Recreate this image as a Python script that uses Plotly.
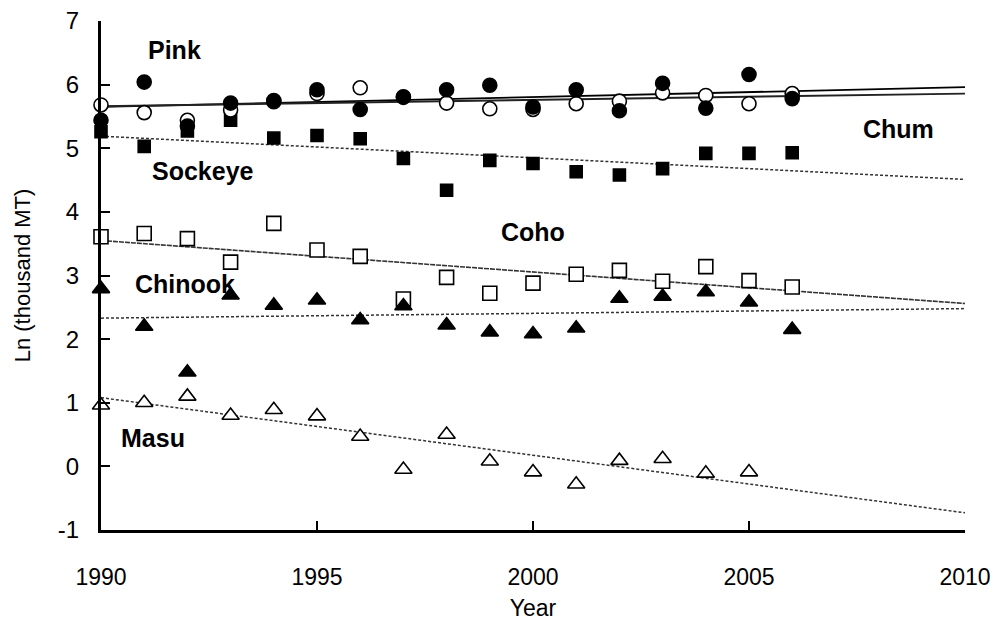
import plotly.graph_objects as go

years = list(range(1990, 2007))
pink = [5.44, 6.04, 5.35, 5.71, 5.75, 5.92, 5.61, 5.80, 5.92, 5.99, 5.65, 5.92, 5.59, 6.02, 5.63, 6.16, 5.78]
chum = [5.68, 5.56, 5.44, 5.60, 5.73, 5.86, 5.95, 5.81, 5.71, 5.62, 5.61, 5.70, 5.74, 5.87, 5.83, 5.70, 5.86]
sockeye = [5.26, 5.03, 5.27, 5.44, 5.16, 5.20, 5.15, 4.84, 4.34, 4.81, 4.76, 4.63, 4.58, 4.68, 4.92, 4.92, 4.93]
coho = [3.61, 3.66, 3.58, 3.21, 3.82, 3.40, 3.30, 2.63, 2.97, 2.72, 2.88, 3.02, 3.08, 2.91, 3.14, 2.92, 2.82]
chinook = [2.79, 2.20, 1.48, 2.69, 2.53, 2.61, 2.30, 2.52, 2.22, 2.11, 2.08, 2.17, 2.64, 2.67, 2.74, 2.58, 2.15]
masu_years = list(range(1990, 2006))
masu = [0.96, 1.00, 1.10, 0.80, 0.89, 0.79, 0.47, -0.05, 0.50, 0.08, -0.09, -0.28, 0.09, 0.12, -0.11, -0.09]

trend_years = [1990, 2010]
pink_trend = [5.65, 5.96]
chum_trend = [5.66, 5.86]
sockeye_trend = [5.19, 4.51]
coho_trend = [3.55, 2.56]
chinook_trend = [2.33, 2.48]
masu_trend = [1.08, -0.73]

label_text = ["Pink", "Chum", "Sockeye", "Coho", "Chinook", "Masu"]
label_x = [1991.7, 2008.45, 1992.35, 2000.0, 1991.95, 1991.2]
label_y = [6.54, 5.31, 4.65, 3.68, 2.86, 0.44]

x_ticks = [1990, 1995, 2000, 2005, 2010]
y_ticks = [-1, 0, 1, 2, 3, 4, 5, 6, 7]

FONT = "Liberation Sans, Arial"

fig = go.Figure()

# trend lines
for tr, dash, col, w in [
    (pink_trend, "solid", "black", 1.8),
    (chum_trend, "solid", "#222", 1.8),
    (sockeye_trend, "3px,2px", "#333", 1.5),
    (coho_trend, "5px,1px", "#333", 1.6),
    (chinook_trend, "3px,2px", "#333", 1.5),
    (masu_trend, "3px,2px", "#333", 1.5),
]:
    fig.add_trace(go.Scatter(x=trend_years, y=tr, mode="lines",
                             line=dict(color=col, width=w, dash=dash),
                             hoverinfo="skip", cliponaxis=False))

def pts(x, y, symbol, fill, size):
    fig.add_trace(go.Scatter(
        x=x, y=y, mode="markers", cliponaxis=False,
        marker=dict(symbol=symbol, size=size, color=fill,
                    line=dict(color="black", width=1.6))))

pts(years, sockeye, "square", "black", 12)
pts(years, coho, "square", "white", 14)
pts(years, chinook, "triangle-up", "black", 15)
pts(masu_years, masu, "triangle-up", "white", 15)
pts(years, chum, "circle", "white", 14)
pts(years, pink, "circle", "black", 14)

for t, x, y in zip(label_text, label_x, label_y):
    fig.add_annotation(x=x, y=y, text="<b>%s</b>" % t, showarrow=False,
                       font=dict(family=FONT, size=25, color="black"))

fig.update_layout(
    width=995, height=625,
    margin=dict(l=101, r=30, t=21, b=95, autoexpand=False),
    paper_bgcolor="white", plot_bgcolor="white",
    showlegend=False,
    font=dict(family=FONT, color="black"),
)
fig.update_xaxes(
    range=[1990, 2010], tickvals=x_ticks, ticktext=[str(v) for v in x_ticks],
    automargin=False, ticklabeloverflow="allow",
    showgrid=False, zeroline=False, showline=True, linecolor="black", linewidth=3,
    ticks="inside", ticklen=9, tickwidth=2, tickcolor="black",
    tickfont=dict(size=23), ticklabelstandoff=24,
    title=dict(text="Year", font=dict(size=23), standoff=12),
)
fig.update_yaxes(
    range=[-1, 7], tickvals=y_ticks, ticktext=[str(v) for v in y_ticks],
    automargin=False, ticklabeloverflow="allow",
    showgrid=False, zeroline=False, showline=True, linecolor="black", linewidth=3,
    ticks="inside", ticklen=9, tickwidth=2, tickcolor="black",
    tickfont=dict(size=24), ticklabelstandoff=14,
    title=dict(text="Ln (thousand MT)", font=dict(size=22), standoff=22),
)

fig.write_html("out.html",
               config={"displayModeBar": False},
               post_script="document.body.style.margin='0';document.body.style.overflow='hidden';")
